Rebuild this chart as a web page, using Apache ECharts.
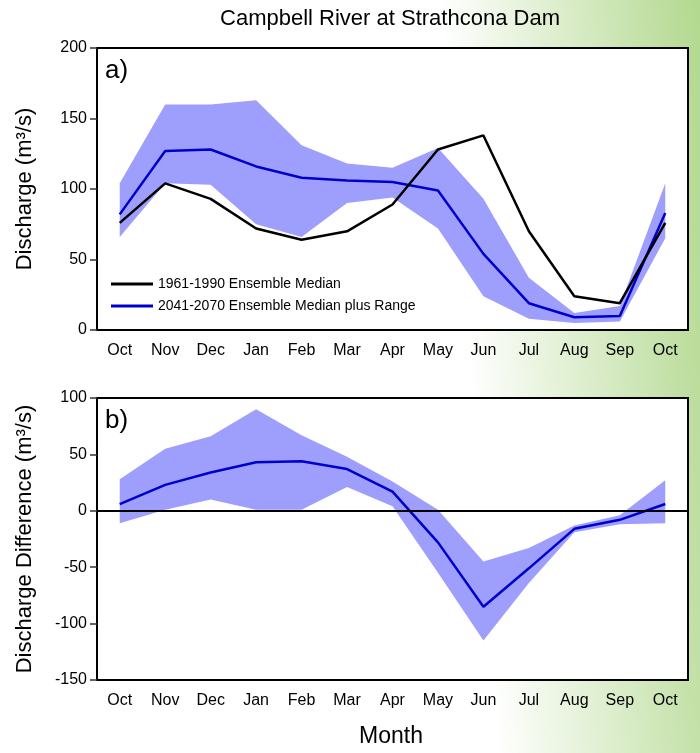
<!DOCTYPE html>
<html>
<head>
<meta charset="utf-8">
<script src="https://cdn.jsdelivr.net/npm/echarts@6/dist/echarts.min.js"></script>
<style>
  html, body { margin: 0; padding: 0; }
  #main { width: 700px; height: 753px; }
</style>
</head>
<body>
<div id="main"></div>
<script>
// months on both panels
var months = ['Oct', 'Nov', 'Dec', 'Jan', 'Feb', 'Mar', 'Apr', 'May', 'Jun', 'Jul', 'Aug', 'Sep', 'Oct'];

// panel a) discharge (m3/s)
var histMedian = [76, 104, 93, 72, 64, 70, 89, 128, 138, 70, 24, 19, 76];
var futMedian  = [82, 127, 128, 116, 108, 106, 105, 99, 54, 19, 9, 10, 83];
var futUpper   = [104, 160, 160, 163, 131, 118, 115, 129, 93, 37, 12, 17, 104];
var futLower   = [66, 104, 103, 75, 66, 90, 94, 72, 24, 8, 5, 6, 65];

// panel b) discharge difference (m3/s)
var diffMedian = [6, 23, 34, 43, 44, 37, 17, -28, -85, -51, -16, -8, 6];
var diffUpper  = [28, 55, 66, 90, 67, 48, 26, 1, -45, -33, -13, -4, 27];
var diffLower  = [-11, 1, 10, 1, 1, 21, 4, -55, -115, -64, -19, -12, -11];

function span(up, lo) {
  return up.map(function (v, i) { return v - lo[i]; });
}

var fillColor = '#9e9efc';
var blue = '#0000cc';
var font = 'Liberation Sans, Arial, sans-serif';

var chart = echarts.init(document.getElementById('main'));

var xAxisBase = {
  type: 'category',
  data: months,
  boundaryGap: true,
  axisLine: { lineStyle: { color: '#000', width: 2 } },
  axisTick: { alignWithLabel: true, length: 7, lineStyle: { color: '#333', width: 1.5 } },
  axisLabel: { color: '#000', fontSize: 16, fontFamily: font, margin: 13 },
  splitLine: { show: false }
};

var yAxisBase = {
  type: 'value',
  nameLocation: 'middle',
  nameRotate: 90,
  nameTextStyle: { color: '#000', fontSize: 22, fontFamily: font },
  axisLine: { show: true, lineStyle: { color: '#000', width: 2 } },
  axisTick: { show: true, length: 7, lineStyle: { color: '#333', width: 1.5 } },
  axisLabel: { color: '#000', fontSize: 16, fontFamily: font, margin: 10 },
  splitLine: { show: false }
};

var option = {
  animation: false,
  backgroundColor: {
    type: 'linear', global: true, x: 440, y: 0, x2: 700, y2: -20,
    colorStops: [
      { offset: 0, color: '#ffffff' },
      { offset: 1, color: '#b2d88e' }
    ]
  },
  graphic: [
    { type: 'text', x: 390, y: 8, style: { text: 'Campbell River at Strathcona Dam', fontSize: 22, fontFamily: font, fill: '#000', textAlign: 'center' } },
    { type: 'text', left: 105, top: 58, style: { text: 'a)', fontSize: 26, fontFamily: font, fill: '#000' }, z: 10 },
    { type: 'text', left: 105, top: 408, style: { text: 'b)', fontSize: 26, fontFamily: font, fill: '#000' }, z: 10 },
    { type: 'text', x: 391, y: 725, style: { text: 'Month', fontSize: 23, fontFamily: font, fill: '#000', textAlign: 'center' } }
  ],
  legend: {
    data: ['1961-1990 Ensemble Median', '2041-2070 Ensemble Median plus Range'],
    orient: 'vertical',
    left: 106,
    top: 272,
    icon: 'rect',
    itemWidth: 42,
    itemHeight: 3,
    itemGap: 8,
    textStyle: { color: '#000', fontSize: 14, fontFamily: font }
  },
  grid: [
    { left: 97, right: 12, top: 48, height: 282, show: true, backgroundColor: '#fff', borderColor: '#000', borderWidth: 2 },
    { left: 97, right: 12, top: 398, height: 282, show: true, backgroundColor: '#fff', borderColor: '#000', borderWidth: 2 }
  ],
  xAxis: [
    Object.assign({ gridIndex: 0 }, xAxisBase),
    Object.assign({ gridIndex: 1 }, xAxisBase, { axisLine: { onZero: false, lineStyle: { color: '#000', width: 2 } } })
  ],
  yAxis: [
    Object.assign({ gridIndex: 0, min: 0, max: 200, interval: 50, name: 'Discharge (m³/s)', nameGap: 61 }, yAxisBase),
    Object.assign({ gridIndex: 1, min: -150, max: 100, interval: 50, name: 'Discharge Difference (m³/s)', nameGap: 61 }, yAxisBase)
  ],
  series: [
    {
      name: 'lowA', type: 'line', xAxisIndex: 0, yAxisIndex: 0, stack: 'ra', stackStrategy: 'all',
      data: futLower, symbol: 'none', lineStyle: { width: 0, opacity: 0 }, silent: true
    },
    {
      name: 'spanA', type: 'line', xAxisIndex: 0, yAxisIndex: 0, stack: 'ra', stackStrategy: 'all',
      data: span(futUpper, futLower), symbol: 'none', lineStyle: { width: 0, opacity: 0 },
      areaStyle: { color: fillColor, opacity: 1 }, silent: true
    },
    {
      name: '2041-2070 Ensemble Median plus Range', type: 'line', xAxisIndex: 0, yAxisIndex: 0,
      data: futMedian, symbol: 'none', color: blue, lineStyle: { color: blue, width: 2.5 }, z: 3
    },
    {
      name: '1961-1990 Ensemble Median', type: 'line', xAxisIndex: 0, yAxisIndex: 0,
      data: histMedian, symbol: 'none', color: '#000', lineStyle: { color: '#000', width: 2.5 }, z: 4
    },
    {
      name: 'lowB', type: 'line', xAxisIndex: 1, yAxisIndex: 1, stack: 'rb', stackStrategy: 'all',
      data: diffLower, symbol: 'none', lineStyle: { width: 0, opacity: 0 }, silent: true
    },
    {
      name: 'spanB', type: 'line', xAxisIndex: 1, yAxisIndex: 1, stack: 'rb', stackStrategy: 'all',
      data: span(diffUpper, diffLower), symbol: 'none', lineStyle: { width: 0, opacity: 0 },
      areaStyle: { color: fillColor, opacity: 1 }, silent: true
    },
    {
      name: 'diffMedian', type: 'line', xAxisIndex: 1, yAxisIndex: 1,
      data: diffMedian, symbol: 'none', lineStyle: { color: blue, width: 2.5 }, z: 3,
      markLine: {
        silent: true, symbol: 'none', label: { show: false },
        lineStyle: { color: '#000', width: 2, type: 'solid' },
        data: [{ yAxis: 0 }]
      }
    }
  ]
};

chart.setOption(option);
window.addEventListener('resize', chart.resize);
</script>
</body>
</html>
